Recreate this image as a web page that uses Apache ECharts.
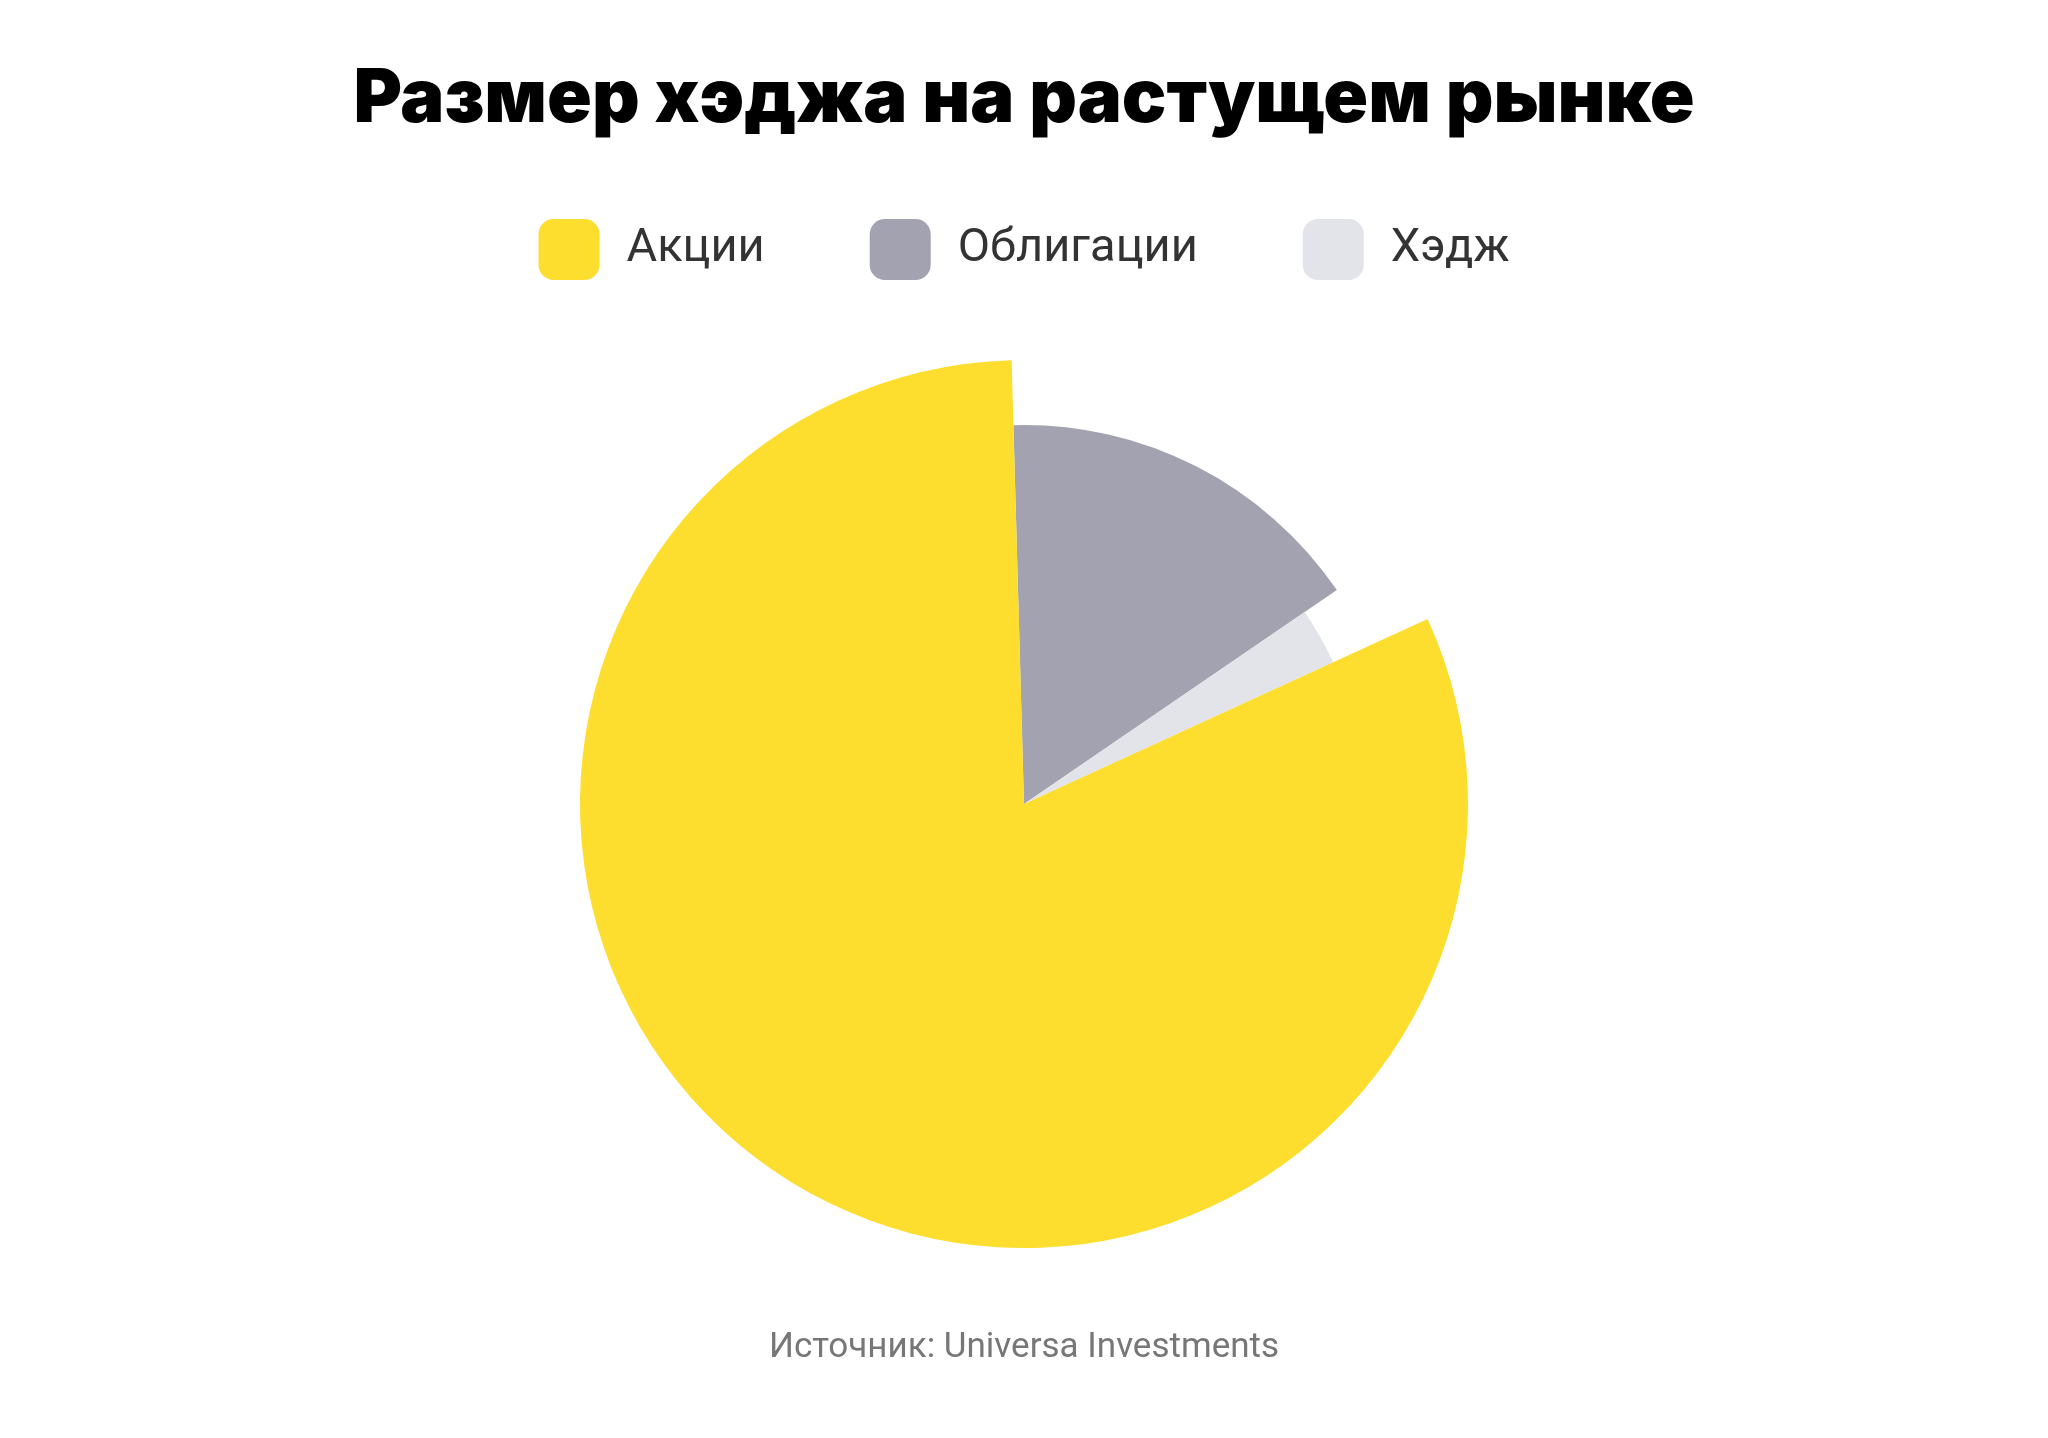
<!DOCTYPE html>
<html><head><meta charset="utf-8">
<script src="https://cdn.jsdelivr.net/npm/echarts@6/dist/echarts.min.js"></script>
<style>html,body{margin:0;background:#fff}#c{width:2048px;height:1438px}</style>
</head><body><div id="c"></div>
<script>
const names = ['Облигации', 'Хэдж', 'Акции'];
const values = [15.9, 2.7, 81.4];
const colors = ['#A3A2B0', '#E3E4E9', '#FDDD2D'];
const radii = ['379', '340', '444'];
const legendOrder = ['Акции', 'Облигации', 'Хэдж'];

const series = names.map((n, k) => ({
  type: 'pie', center: [1024, 804], radius: [0, +radii[k]], startAngle: 91.6,
  label: {show: false}, labelLine: {show: false}, silent: true,
  data: names.map((m, j) => ({name: m, value: values[j],
    itemStyle: {color: colors[j], opacity: j === k ? 1 : 0}}))
}));
const chart = echarts.init(document.getElementById('c'));
chart.setOption({
  backgroundColor: '#fff',
  title: {text: 'Размер хэджа на растущем рынке', left: 'center', top: 58,
    textStyle: {fontFamily: 'Inter', fontWeight: 900, fontSize: 74, color: '#000'}},
  legend: {top: 214, left: 'center', itemWidth: 61, itemHeight: 61, itemGap: 105,
    icon: 'roundRect', textStyle: {fontFamily: 'Roboto', fontSize: 47, color: '#333', padding: [0,0,0,22]},
    data: legendOrder.map(n => ({name: n, itemStyle: {color: colors[names.indexOf(n)], opacity: 1}}))},
  graphic: [{type: 'text', left: 'center', top: 1331,
    style: {text: 'Источник: Universa Investments', font: '35px Roboto', fill: '#777'}}],
  series
});
</script></body></html>
